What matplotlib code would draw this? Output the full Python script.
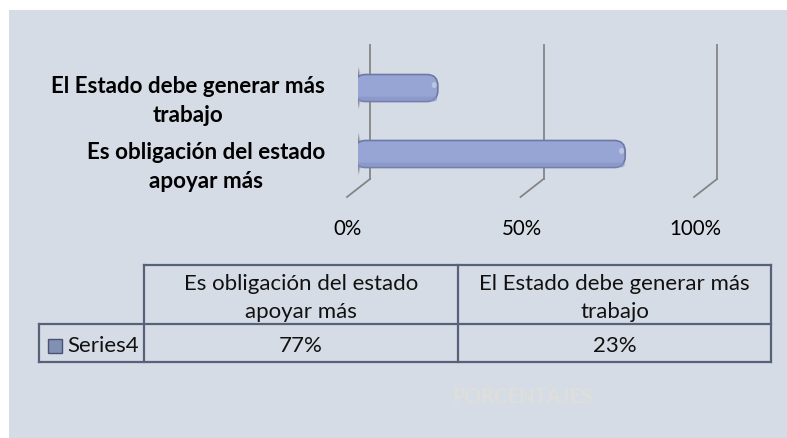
import matplotlib
matplotlib.use("Agg")
import matplotlib.pyplot as plt
from matplotlib.patches import FancyBboxPatch, Ellipse, Rectangle
from matplotlib.lines import Line2D

# ---- data ----
categories = ["Es obligación del estado\napoyar más", "El Estado debe generar más\ntrabajo"]
values = [77, 23]
series_name = "Series4"
tick_values = [0, 50, 100]
tick_labels = ["0%", "50%", "100%"]
watermark = "PORCENTAJES"

W, H = 787, 439
DPI = 100
FONT = "Lato"
fig = plt.figure(figsize=(W / DPI, H / DPI), dpi=DPI, facecolor="white")
renderer = fig.canvas.get_renderer()

def fx(x):
    return x / W

def fy(y):
    return 1 - y / H

def fit(text, width_px, weight="normal", base=12):
    t = fig.text(0, 0, text, fontsize=base, weight=weight, family=FONT)
    w = t.get_window_extent(renderer).width
    t.remove()
    return base * width_px / w

# background panel
fig.add_artist(Rectangle((fx(9), fy(439)), fx(787 - 9), fy(11) - fy(439),
                         transform=fig.transFigure, facecolor="#D6DCE5", edgecolor="none", zorder=0))

# main axes: data 0..100 -> px 358..705 ; y px 46..198
X0, X1 = 358, 705
YT, YB = 46, 198
ax = fig.add_axes([fx(X0), fy(YB), fx(X1 - X0), fy(YT) - fy(YB)])
ax.set_xlim(0, 100)
ylo, yhi = -0.652, 1.652
ax.set_ylim(ylo, yhi)
ax.axis("off")
ax.patch.set_alpha(0)

ppx = (X1 - X0) / 100.0          # px per x unit
ppy = (YB - YT) / (yhi - ylo)    # px per y unit

# 3D-like gridlines
back = 12 / ppx
front = -11 / ppx
y_floor = ylo + 18 / ppy
for tv in tick_values:
    ax.plot([tv + back, tv + back], [yhi, y_floor], color="#858585", lw=1.3, zorder=1, clip_on=False)
    ax.plot([tv + back, tv + front], [y_floor, ylo], color="#858585", lw=1.3, zorder=1, clip_on=False)

# bars
bar_h = 27 / ppy
r = 11 / ppx
for i, v in enumerate(values):
    # blurred shadow at the base of the bar
    for wf, hf, a in [(1.0, 1.0, 0.18), (0.8, 0.9, 0.3), (0.6, 0.78, 0.45), (0.4, 0.65, 0.6)]:
        ax.add_patch(Ellipse((-0.9, i), 14 / ppx * wf, 48 / ppy * hf, facecolor="#1e1e1e",
                             edgecolor="none", alpha=a, zorder=2))
    p = FancyBboxPatch((-1.0, i - bar_h / 2), v + 1.0, bar_h,
                       boxstyle=f"round,pad=0,rounding_size={r}", mutation_aspect=ppx / ppy,
                       facecolor="#97A5D4", edgecolor="#6B79A6", lw=1.2, zorder=3)
    ax.add_patch(p)
    # darker lower band for a cylindrical look
    ax.add_patch(FancyBboxPatch((-1.0, i - bar_h / 2), v + 1.0, bar_h * 0.18,
                                boxstyle=f"round,pad=0,rounding_size={r * 0.4}",
                                mutation_aspect=ppx / ppy,
                                facecolor="#8592C2", edgecolor="none", alpha=0.6, zorder=3.5))
    # subtle highlight
    ax.add_patch(Ellipse((v - 3 / ppx * 1.2, i + 3 / ppy), 5 / ppx, 6 / ppy, facecolor="white",
                         edgecolor="none", alpha=0.35, zorder=4))

# tick labels
fs_tick = fit("100%", 52)
for tv, tl in zip(tick_values, tick_labels):
    ax.text(tv + front + 1 / ppx, ylo - (229 - YB) / ppy, tl, ha="center", va="center",
            fontsize=fs_tick, family=FONT, color="black")

# category labels
fs_cat = fit("El Estado debe generar más", 273, weight="bold")
for i, c in enumerate(categories):
    ax.text((325 - X0) / ppx, i - 12 / ppy, c, ha="right", va="center", multialignment="center",
            fontsize=fs_cat, weight="bold", family=FONT, color="black", linespacing=1.45)

# ---- data table ----
bc = "#56627A"
tlw = 1.6
def hline(x0, x1, y):
    fig.add_artist(Line2D([fx(x0), fx(x1)], [fy(y), fy(y)], color=bc, lw=tlw, transform=fig.transFigure))
def vline(x, y0, y1):
    fig.add_artist(Line2D([fx(x), fx(x)], [fy(y0), fy(y1)], color=bc, lw=tlw, transform=fig.transFigure))

c0, c1, c2, c3 = 39, 144, 458, 771
r0, r1, r2 = 266, 325, 363
hline(c1, c3, r0)
hline(c0, c3, r1)
hline(c0, c3, r2)
vline(c0, r1, r2)
vline(c1, r0, r2)
vline(c2, r0, r2)
vline(c3, r0, r2)

fs_tab = fit("El Estado debe generar más", 269)
col_centers = [(c1 + c2) / 2, (c2 + c3) / 2]
for cc, c in zip(col_centers, categories):
    fig.text(fx(cc), fy(298), c, ha="center", va="center", multialignment="center",
             fontsize=fs_tab, family=FONT, color="#111111", linespacing=1.55)
for cc, v in zip(col_centers, values):
    fig.text(fx(cc), fy(346), f"{v}%", ha="center", va="center",
             fontsize=fs_tab, family=FONT, color="#111111")

# legend key + series name
fig.add_artist(Rectangle((fx(48), fy(354)), fx(14), fy(340) - fy(354), transform=fig.transFigure,
                         facecolor="#8390B5", edgecolor="#4A5470", lw=1.0))
fig.text(fx(67), fy(346), series_name, ha="left", va="center", fontsize=fs_tab, family=FONT,
         color="#111111")

# faint watermark title
fs_wm = fit(watermark, 140, weight="bold")
fig.text(fx(522), fy(397), watermark, ha="center", va="center", fontsize=fs_wm, weight="bold",
         family=FONT, color="#DEDEDB")

fig.savefig("out.png", dpi=DPI, facecolor="white")
